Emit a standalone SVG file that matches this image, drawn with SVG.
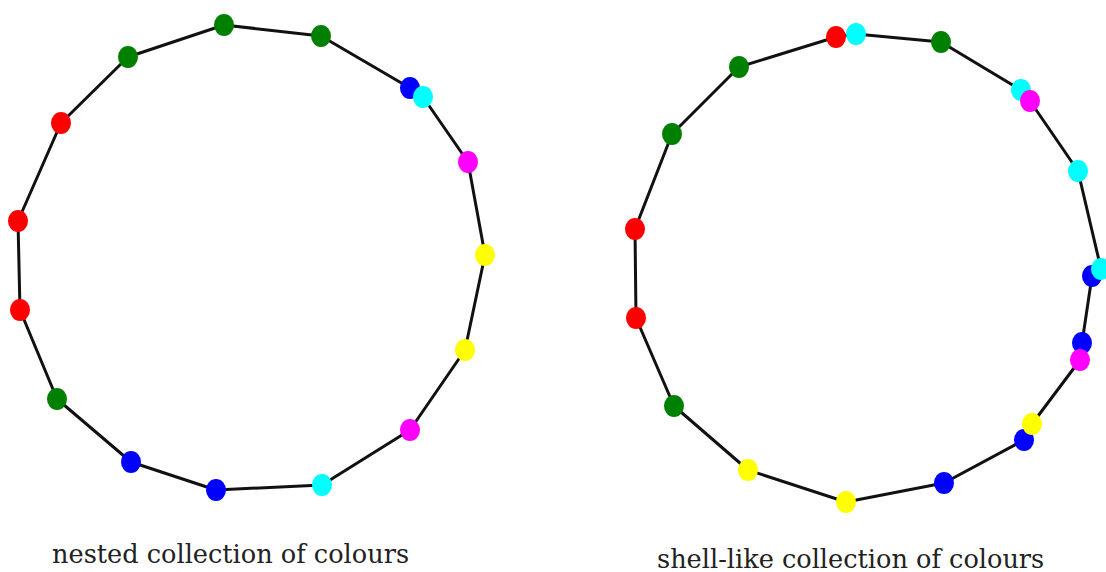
<svg xmlns="http://www.w3.org/2000/svg" width="1106" height="572" viewBox="0 0 1106 572">
<style>
.edge{fill:none;stroke:#111;stroke-width:3;stroke-linejoin:round}
.n{stroke:none}
.r{fill:#ff0000}.g{fill:#008000}.b{fill:#0000ff}.c{fill:#00ffff}.m{fill:#ff00ff}.y{fill:#ffff00}
.lbl{font-family:"DejaVu Serif",serif;font-size:25.6px;fill:#222}
</style>
<rect width="1106" height="572" fill="#fff"/>
<g id="connectors">
<polygon class="edge" points="18,221 61,123 128,57 224,25 321,36 410,88 423,97 468,162 485,255 465,350 410,430 322,485 216,490 131,462 57,399 20,310"/>
<polygon class="edge" points="635,229 672,134 739,67 836,37 856,34 941,42 1021,90 1030,101 1078,171 1101,269 1092,276 1082,343 1080,360 1032,424 1024,440 944,483 846,502 748,470 674,406 636,318"/>
</g>
<g id="left-nodes">
<g id="L1"><ellipse class="n r" cx="18" cy="221" rx="10" ry="11"/></g>
<g id="L2"><ellipse class="n r" cx="61" cy="123" rx="10" ry="11"/></g>
<g id="L3"><ellipse class="n g" cx="128" cy="57" rx="10" ry="11"/></g>
<g id="L4"><ellipse class="n g" cx="224" cy="25" rx="10" ry="11"/></g>
<g id="L5"><ellipse class="n g" cx="321" cy="36" rx="10" ry="11"/></g>
<g id="L6"><ellipse class="n b" cx="410" cy="88" rx="10" ry="11"/></g>
<g id="L7"><ellipse class="n c" cx="423" cy="97" rx="10" ry="11"/></g>
<g id="L8"><ellipse class="n m" cx="468" cy="162" rx="10" ry="11"/></g>
<g id="L9"><ellipse class="n y" cx="485" cy="255" rx="10" ry="11"/></g>
<g id="L10"><ellipse class="n y" cx="465" cy="350" rx="10" ry="11"/></g>
<g id="L11"><ellipse class="n m" cx="410" cy="430" rx="10" ry="11"/></g>
<g id="L12"><ellipse class="n c" cx="322" cy="485" rx="10" ry="11"/></g>
<g id="L13"><ellipse class="n b" cx="216" cy="490" rx="10" ry="11"/></g>
<g id="L14"><ellipse class="n b" cx="131" cy="462" rx="10" ry="11"/></g>
<g id="L15"><ellipse class="n g" cx="57" cy="399" rx="10" ry="11"/></g>
<g id="L16"><ellipse class="n r" cx="20" cy="310" rx="10" ry="11"/></g>
</g>
<g id="right-nodes">
<g id="R1"><ellipse class="n r" cx="635" cy="229" rx="10" ry="11"/></g>
<g id="R2"><ellipse class="n g" cx="672" cy="134" rx="10" ry="11"/></g>
<g id="R3"><ellipse class="n g" cx="739" cy="67" rx="10" ry="11"/></g>
<g id="R4"><ellipse class="n r" cx="836" cy="37" rx="10" ry="11"/></g>
<g id="R5"><ellipse class="n c" cx="856" cy="34" rx="10" ry="11"/></g>
<g id="R6"><ellipse class="n g" cx="941" cy="42" rx="10" ry="11"/></g>
<g id="R7"><ellipse class="n c" cx="1021" cy="90" rx="10" ry="11"/></g>
<g id="R8"><ellipse class="n m" cx="1030" cy="101" rx="10" ry="11"/></g>
<g id="R9"><ellipse class="n c" cx="1078" cy="171" rx="10" ry="11"/></g>
<g id="R10"><ellipse class="n b" cx="1092" cy="276" rx="10" ry="11"/></g>
<g id="R11"><ellipse class="n c" cx="1101" cy="269" rx="10" ry="11"/></g>
<g id="R12"><ellipse class="n b" cx="1082" cy="343" rx="10" ry="11"/></g>
<g id="R13"><ellipse class="n m" cx="1080" cy="360" rx="10" ry="11"/></g>
<g id="R14"><ellipse class="n b" cx="1024" cy="440" rx="10" ry="11"/></g>
<g id="R15"><ellipse class="n y" cx="1032" cy="424" rx="10" ry="11"/></g>
<g id="R16"><ellipse class="n b" cx="944" cy="483" rx="10" ry="11"/></g>
<g id="R17"><ellipse class="n y" cx="846" cy="502" rx="10" ry="11"/></g>
<g id="R18"><ellipse class="n y" cx="748" cy="470" rx="10" ry="11"/></g>
<g id="R19"><ellipse class="n g" cx="674" cy="406" rx="10" ry="11"/></g>
<g id="R20"><ellipse class="n r" cx="636" cy="318" rx="10" ry="11"/></g>
</g>
<text class="lbl" x="52" y="563">nested collection of colours</text>
<text class="lbl" x="657" y="568">shell-like collection of colours</text>
</svg>
